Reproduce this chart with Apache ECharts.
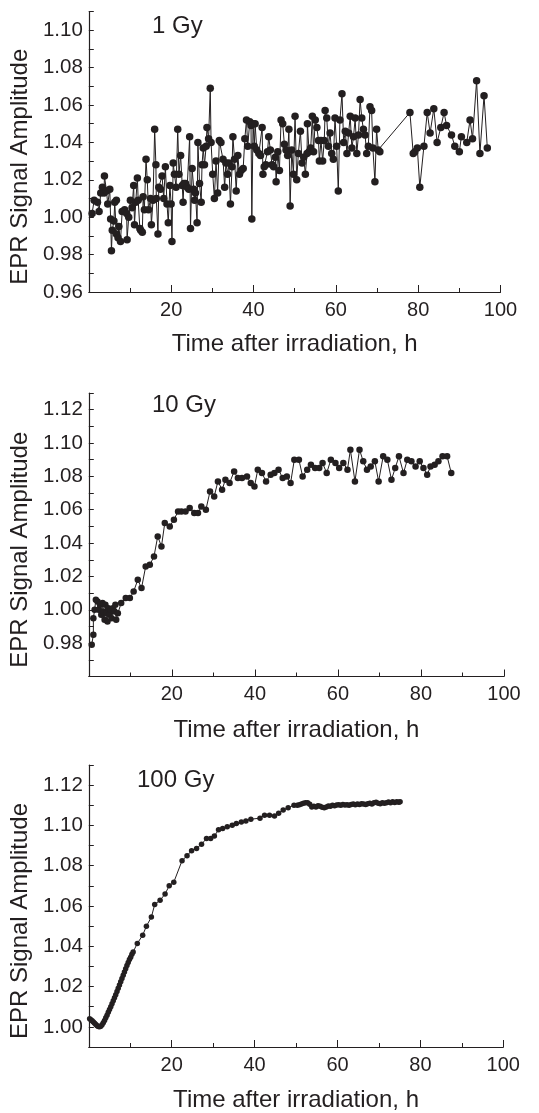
<!DOCTYPE html>
<html>
<head>
<meta charset="utf-8">
<script src="https://cdn.jsdelivr.net/npm/echarts@6/dist/echarts.min.js"></script>
<style>
html,body{margin:0;padding:0;background:#fff;}
#chart{width:539px;height:1113px;}
</style>
</head>
<body>
<div id="chart"></div>
<script>
// ---------- DATA ----------
const panelLabels = ['1 Gy', '10 Gy', '100 Gy'];
const xAxisTitle = 'Time after irradiation, h';
const yAxisTitle = 'EPR Signal Amplitude';

// 1 Gy
const time1Gy = [
  0.8,1.3,2.1,2.5,2.9,3.3,3.7,3.8,4.3,4.6,
  5.1,5.3,5.5,5.7,6.1,6.3,6.7,6.7,7.1,7.3,
  7.7,8.1,8.7,9.2,9.3,9.7,10.1,10.5,10.9,11.1,
  11.4,11.8,12.0,12.4,12.6,13.0,13.2,13.5,13.9,14.2,
  14.5,15.0,15.2,15.6,16.0,16.3,16.4,16.8,17.0,17.4,
  17.8,18.2,18.6,19.0,19.3,19.7,20.0,20.2,20.5,20.8,
  21.2,21.6,21.9,22.3,22.7,22.9,23.1,23.5,23.9,24.3,
  24.5,24.7,25.1,25.5,25.7,25.9,26.3,26.5,26.9,27.3,
  27.5,27.8,28.1,28.5,28.7,29.1,29.5,29.7,30.1,30.5,
  30.9,31.3,31.7,32.1,32.6,33.0,33.3,33.7,34.0,34.4,
  34.8,35.0,35.4,35.8,36.2,36.6,37.0,37.5,37.9,38.3,
  38.6,39.1,39.4,39.6,39.9,40.2,40.4,40.8,41.3,41.7,
  42.1,42.3,42.6,43.0,43.4,43.7,44.1,44.5,44.9,45.3,
  45.5,45.9,46.3,46.7,47.1,47.5,47.9,48.3,48.6,48.9,
  49.3,49.7,50.1,50.5,50.9,51.4,51.8,52.2,52.6,53.0,
  53.1,53.5,53.9,54.3,54.6,55.0,55.4,55.8,56.0,56.4,
  56.8,57.2,57.4,57.8,58.2,58.6,59.0,59.4,59.8,60.2,
  60.6,61.0,61.5,61.9,62.3,62.7,63.1,63.5,63.9,64.3,
  64.7,65.1,65.5,65.9,66.3,66.7,67.1,67.5,67.9,68.3,
  68.7,69.0,69.5,69.9,70.3,70.7,78.0,78.8,79.2,79.8,
  80.4,81.4,82.2,82.9,83.8,84.6,85.5,86.3,86.9,88.1,
  88.9,90.0,90.5,91.8,92.6,93.2,94.2,95.0,96.0,96.8
];
const amp1Gy = [
  1.002,1.009,1.008,1.003,1.013,1.016,1.013,1.022,1.014,1.007,
  1.015,0.999,0.982,0.993,0.998,1.008,1.009,0.991,0.989,0.995,
  0.987,1.003,1.004,1.002,0.988,1.000,1.009,1.005,1.017,0.996,
  1.008,1.021,1.009,0.994,0.993,0.992,1.011,1.004,1.031,1.020,
  1.004,1.010,0.996,1.009,1.047,1.028,1.010,0.991,1.016,1.015,
  1.022,1.010,1.027,1.007,0.997,1.017,1.007,0.987,1.029,1.023,
  1.016,1.047,1.023,1.033,1.017,1.008,1.018,1.018,1.016,1.015,
  1.043,0.994,1.026,1.015,1.009,1.013,0.997,1.040,1.018,1.008,
  1.028,1.037,1.028,1.038,1.048,1.042,1.069,1.040,1.023,1.010,
  1.030,1.013,1.041,1.040,1.031,1.016,1.029,1.023,1.029,1.007,
  1.027,1.043,1.031,1.014,1.033,1.023,1.025,1.026,1.042,1.052,
  1.038,1.051,1.049,0.999,1.050,1.038,1.050,1.036,1.034,1.033,
  1.048,1.023,1.027,1.028,1.035,1.043,1.036,1.028,1.027,1.032,
  1.019,1.035,1.025,1.052,1.050,1.039,1.036,1.033,1.047,1.006,
  1.036,1.023,1.054,1.020,1.034,1.046,1.029,1.032,1.023,1.034,
  1.050,1.035,1.037,1.054,1.035,1.052,1.048,1.041,1.030,1.041,
  1.030,1.041,1.057,1.053,1.038,1.045,1.034,1.031,1.053,1.038,
  1.014,1.052,1.066,1.040,1.046,1.034,1.045,1.054,1.037,1.043,
  1.053,1.034,1.044,1.063,1.053,1.047,1.044,1.034,1.038,1.059,
  1.057,1.037,1.019,1.047,1.036,1.035,1.056,1.034,1.035,1.037,
  1.016,1.038,1.056,1.045,1.058,1.040,1.048,1.056,1.049,1.044,
  1.038,1.035,1.043,1.040,1.052,1.042,1.073,1.034,1.065,1.037
];

// 10 Gy
const time10Gy = [
  0.7,1.1,1.1,1.4,1.7,2.1,2.4,2.7,3.0,3.3,
  3.5,3.8,4.0,4.2,4.5,4.7,5.0,5.3,5.5,5.8,
  6.2,6.4,6.6,7.0,
  7.8,8.9,9.9,10.8,11.8,12.7,13.7,14.7,15.7,16.6,
  17.5,18.3,19.5,20.5,21.5,22.3,23.3,24.3,25.4,26.3,
  27.1,28.2,29.2,30.2,31.1,32.1,32.9,33.9,35.0,35.9,
  36.9,38.1,39.0,39.9,40.7,41.7,42.7,43.8,44.7,45.7,
  46.7,47.7,48.6,49.5,50.6,51.5,52.6,53.5,54.5,55.5,
  56.3,57.3,58.3,59.4,60.3,61.3,62.3,63.0,64.1,65.2,
  66.1,67.0,67.9,68.9,69.8,70.9,71.9,72.9,73.8,74.7,
  75.8,76.7,77.7,78.7,79.7,80.6,81.5,82.3,83.3,84.2,
  85.2,86.3,87.3
];
const amp10Gy = [
  0.979,0.985,0.995,1.000,1.006,1.005,1.000,1.003,0.997,1.004,
  0.999,0.994,1.003,0.998,0.993,1.001,0.997,1.000,0.995,1.001,
  0.999,1.003,0.994,0.998,
  1.004,1.007,1.007,1.011,1.018,1.013,1.026,1.027,1.032,1.044,
  1.038,1.052,1.050,1.054,1.059,1.059,1.059,1.061,1.058,1.058,
  1.062,1.060,1.071,1.068,1.077,1.072,1.078,1.076,1.083,1.079,
  1.079,1.080,1.076,1.074,1.084,1.082,1.077,1.081,1.082,1.084,
  1.079,1.080,1.076,1.090,1.090,1.080,1.084,1.087,1.085,1.085,
  1.088,1.082,1.090,1.088,1.085,1.088,1.084,1.096,1.077,1.096,
  1.089,1.084,1.086,1.089,1.077,1.092,1.090,1.078,1.085,1.092,
  1.082,1.090,1.089,1.086,1.089,1.085,1.081,1.086,1.087,1.089,
  1.092,1.092,1.082
];

// 100 Gy
const time100Gy = [
  0.2,0.5,0.8,1.1,1.4,1.7,2.0,2.3,2.6,2.9,
  3.2,3.5,3.8,4.1,4.4,4.7,5.0,5.3,5.6,5.9,
  6.2,6.5,6.8,7.1,7.4,7.7,8.0,8.3,8.6,8.9,
  9.2,9.5,9.8,10.1,10.4,10.7,
  11.7,13.0,13.9,15.1,15.9,17.2,18.4,19.4,20.5,22.5,
  23.7,24.8,26.0,27.2,28.4,29.4,30.3,31.3,32.3,33.4,
  34.6,35.6,36.8,37.9,39.1,41.3,42.4,43.6,44.8,45.8,
  46.9,48.1,49.5,
  50.3,50.8,51.3,51.8,52.3,52.8,53.3,53.8,54.3,54.8,
  55.3,55.8,56.3,56.8,57.3,57.8,58.3,58.8,59.3,59.8,
  60.3,60.8,61.3,61.8,62.3,62.8,63.3,63.8,64.3,64.8,
  65.3,65.8,66.3,66.8,67.3,67.8,68.3,68.8,69.3,69.8,
  70.3,70.8,71.3,71.8,72.3,72.8,73.3,73.8,74.3,74.8,
  75.1
];
const amp100Gy = [
  1.0040,1.0035,1.0030,1.0024,1.0018,1.0012,1.0006,1.0002,1.0000,1.0003,
  1.0010,1.0020,1.0032,1.0045,1.0058,1.0072,1.0086,1.0100,1.0115,1.0130,
  1.0145,1.0160,1.0176,1.0192,1.0208,1.0224,1.0240,1.0256,1.0272,1.0288,
  1.0305,1.0320,1.0335,1.0345,1.0360,1.0372,
  1.0414,1.0455,1.0500,1.0545,1.0608,1.0628,1.0660,1.0700,1.0718,1.0825,
  1.0850,1.0874,1.0886,1.0907,1.0935,1.0935,1.0948,1.0978,1.0985,1.0994,
  1.1001,1.1009,1.1017,1.1022,1.1031,1.1036,1.1050,1.1050,1.1047,1.1060,
  1.1077,1.1088,1.1100,
  1.1100,1.1103,1.1106,1.1110,1.1112,1.1113,1.1105,1.1092,1.1095,1.1092,
  1.1098,1.1095,1.1090,1.1088,1.1092,1.1097,1.1095,1.1100,1.1098,1.1101,
  1.1103,1.1100,1.1104,1.1101,1.1103,1.1100,1.1104,1.1106,1.1103,1.1106,
  1.1104,1.1108,1.1106,1.1104,1.1108,1.1110,1.1106,1.1112,1.1115,1.1110,
  1.1108,1.1112,1.1110,1.1113,1.1116,1.1112,1.1117,1.1114,1.1118,1.1115,
  1.1117
];

// axis ranges
const xMin = 0, xMax = 100, xStep = 20;
const yRanges = [[0.96, 1.11], [0.96, 1.13], [0.99, 1.13]];
const yHiddenLabels = [[], [96], []]; // in hundredths

// ---------- CHART ----------
const INK = '#231f20';
const FONT = '"Liberation Sans", Arial, Helvetica, sans-serif';
const zip = (a, b) => a.map((v, i) => [v, b[i]]);
const seriesData = [zip(time1Gy, amp1Gy), zip(time10Gy, amp10Gy), zip(time100Gy, amp100Gy)];

const grids = [
  {left: 88, top: 11.5, width: 412.5, height: 280.5},
  {left: 87, top: 393, width: 417, height: 283.5},
  {left: 86.7, top: 765, width: 416.6, height: 284.3}
];
const symbolSizes = [7.5, 6.5, 5.5];
const xNameGaps = [40, 42, 41];

const chart = echarts.init(document.getElementById('chart'), null, {renderer: 'canvas'});

const xAxes = grids.map((g, i) => ({
  type: 'value', gridIndex: i, min: xMin, max: xMax, interval: xStep,
  name: xAxisTitle, nameLocation: 'middle', nameGap: xNameGaps[i],
  nameTextStyle: {fontFamily: FONT, fontSize: 24, color: INK},
  axisLine: {show: true, lineStyle: {color: INK, width: 1.2}},
  axisTick: {show: true, inside: true, length: 7, lineStyle: {color: INK, width: 1}},
  minorTick: {show: true, splitNumber: 2, length: 4, lineStyle: {color: INK, width: 1}},
  axisLabel: {showMinLabel: false, fontFamily: FONT, fontSize: 20, color: INK, margin: 8},
  splitLine: {show: false}, minorSplitLine: {show: false}
}));

const yAxes = grids.map((g, i) => ({
  type: 'value', gridIndex: i, min: yRanges[i][0], max: yRanges[i][1], interval: 0.01,
  name: yAxisTitle, nameLocation: 'middle', nameGap: 54, nameRotate: 90,
  nameTextStyle: {fontFamily: FONT, fontSize: 24, color: INK, padding: [0, 30, 0, 0]},
  axisLine: {show: true, lineStyle: {color: INK, width: 1.2}},
  axisTick: {show: true, inside: true, length: 5, lineStyle: {color: INK, width: 1}},
  axisLabel: {
    fontFamily: FONT, fontSize: 20.5, color: INK, margin: 6,
    formatter: function (v) {
      const k = Math.round(v * 100);
      if (k % 2 !== 0) return '';
      if (yHiddenLabels[i].indexOf(k) >= 0) return '';
      return (k / 100).toFixed(2);
    }
  },
  splitLine: {show: false}
}));

const series = seriesData.map((d, i) => ({
  type: 'line', xAxisIndex: i, yAxisIndex: i, data: d,
  symbol: 'circle', symbolSize: symbolSizes[i], showSymbol: true, showAllSymbol: true,
  itemStyle: {color: INK},
  lineStyle: {color: INK, width: 1},
  emphasis: {disabled: true}, silent: true
}));

const labelPos = [{left: 152, top: 14}, {left: 152, top: 393}, {left: 137, top: 768}];
const graphics = panelLabels.map((t, i) => ({
  type: 'text', left: labelPos[i].left, top: labelPos[i].top,
  style: {text: t, font: '24px ' + FONT, fill: INK}
}));

chart.setOption({
  animation: false,
  backgroundColor: '#fff',
  grid: grids,
  xAxis: xAxes,
  yAxis: yAxes,
  series: series,
  graphic: graphics
});
</script>
</body>
</html>
